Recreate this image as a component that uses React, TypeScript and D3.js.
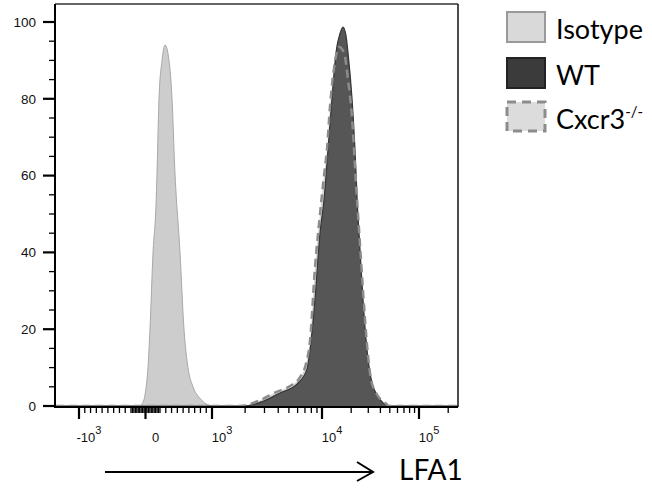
import * as d3 from "d3";

// ── layout ──
const W = 652;
const H = 489;
const plot = { left: 55, right: 458, top: 4, bottom: 407 };

// ── data ──
// fluorescence value (LFA1) and % of max
const isoVal = [-1400, -38, -24, -3, 17, 31, 52, 72, 79, 93, 135, 187, 256, 308, 355, 446, 515, 584, 671, 792, 930, 1065, 250000];
const isoPct = [0, 0, 0.5, 3, 10, 20, 40, 52, 60, 80, 90, 94, 90, 80, 62, 40, 20, 10, 5, 2, 0.3, 0, 0];

const wtVal = [-1400, 1914, 2908, 4150, 5925, 7305, 7780, 8630, 9590, 10486, 11530, 12680, 13940, 15330, 16460, 17660, 18540, 20400, 21880, 23200, 24660, 26470, 29100, 32780, 36900, 42550, 47900, 250000];
const wtPct = [0, 0, 1.2, 3.4, 5.7, 9.6, 14.6, 27.6, 45, 53.6, 66.7, 80, 92, 97, 98.7, 96.5, 92, 80, 66.7, 52, 40.6, 27.6, 14.6, 6, 2.9, 0.8, 0, 0];

const koVal = [-1400, 1797, 2730, 3740, 5120, 6310, 7150, 7780, 8630, 9590, 10486, 11260, 12090, 13300, 14970, 16860, 18540, 20400, 22410, 24660, 26470, 29100, 31990, 36900, 42550, 45740, 49000, 250000];
const koPct = [0, 0, 1.5, 3.5, 5.2, 7.5, 11, 17, 36, 50, 60, 67, 78, 88, 93.5, 92, 85, 75, 58, 42, 30, 16, 7, 3, 1.2, 0.6, 0, 0];

// ticks
const xMajor = [-1000, 0, 1000, 10000, 100000];
const xMajorBase = ["-10", "0", "10", "10", "10"];
const xMajorExp = ["3", "", "3", "4", "5"];
const xMinor = [
  ...d3.range(-900, 0, 100), ...d3.range(-90, 0, 10), ...d3.range(10, 100, 10),
  ...d3.range(100, 1000, 100), ...d3.range(2000, 10000, 1000),
  ...d3.range(20000, 100000, 10000), 200000,
];
const yMajor = [0, 20, 40, 60, 80, 100];
const yMinor = d3.range(5, 100, 5).filter(t => t % 20 !== 0);

const legendLabels = ["Isotype", "WT", "Cxcr3"];
const legendSup = ["", "", "-/-"];

// ── scales ──
// biexponential-style axis: linear around zero, log above 10^3
const xLin = d3.scaleLinear().domain([-1000, -100, 100, 1000]).range([79, 131, 160, 212]);
const xLog = d3.scaleLog().domain([1e3, 1e4, 1e5]).range([212, 322, 419]);
const x = (v: number) => (v <= 1000 ? xLin(v) : xLog(v));
const y = d3.scaleLinear().domain([0, 100]).range([406, 22]);

const toPts = (vals: number[], pcts: number[]) => vals.map((v, i) => [x(v), y(pcts[i])] as [number, number]);

const area = d3.area<[number, number]>().x(d => d[0]).y0(y(0)).y1(d => d[1]).curve(d3.curveMonotoneX);
const line = d3.line<[number, number]>().x(d => d[0]).y(d => d[1]).curve(d3.curveMonotoneX);

const tickFont = "'Liberation Sans', Arial, sans-serif";
const textFont = "Lato, 'Open Sans', sans-serif";

export default function App() {
  const iso = toPts(isoVal, isoPct);
  const wt = toPts(wtVal, wtPct);
  const ko = toPts(koVal, koPct);

  const legendY = [12, 58, 102];

  return (
    <svg width={W} height={H} style={{ position: "absolute", left: 0, top: 0, background: "#fff" }}>
      <defs>
        <clipPath id="plotClip">
          <rect x={plot.left} y={plot.top} width={plot.right - plot.left} height={plot.bottom - plot.top} />
        </clipPath>
      </defs>

      {/* histograms */}
      <g clipPath="url(#plotClip)">
        <path d={area(iso) ?? ""} fill="#cdcdcd" />
        <path d={line(iso) ?? ""} fill="none" stroke="#a8a8a8" strokeWidth={1} />
        <path d={area(ko) ?? ""} fill="#d6d6d6" />
        <path d={area(wt) ?? ""} fill="#565656" />
        <path d={line(wt) ?? ""} fill="none" stroke="#353535" strokeWidth={1.2} />
        <path d={line(ko) ?? ""} fill="none" stroke="#8c8c8c" strokeWidth={2.5} strokeDasharray="8 5" />
      </g>

      {/* frame */}
      <line x1={plot.left} x2={plot.right} y1={plot.top} y2={plot.top} stroke="#333" strokeWidth={1.5} />
      <line x1={plot.right} x2={plot.right} y1={plot.top} y2={plot.bottom} stroke="#111" strokeWidth={1.5} />
      <line x1={plot.left} x2={plot.left} y1={plot.top} y2={plot.bottom + 1} stroke="#000" strokeWidth={2} />
      <line x1={plot.left} x2={plot.right} y1={plot.bottom} y2={plot.bottom} stroke="#000" strokeWidth={2} />

      {/* y axis */}
      {yMinor.map(t => (
        <line key={"ym" + t} x1={plot.left - 6} x2={plot.left} y1={y(t)} y2={y(t)} stroke="#000" strokeWidth={1.3} />
      ))}
      {yMajor.map(t => (
        <g key={"yM" + t}>
          <line x1={plot.left - 12} x2={plot.left} y1={y(t)} y2={y(t)} stroke="#000" strokeWidth={2.2} />
          <text x={plot.left - 19} y={y(t)} dy="0.36em" textAnchor="end" fontSize={13.5} fontFamily={tickFont} fill="#111">
            {t}
          </text>
        </g>
      ))}

      {/* x axis */}
      {xMinor.map(t => (
        <line key={"xm" + t} x1={x(t)} x2={x(t)} y1={plot.bottom} y2={plot.bottom + 6} stroke="#000" strokeWidth={1.3} />
      ))}
      {xMajor.map((t, i) => (
        <g key={"xM" + t}>
          <line x1={x(t)} x2={x(t)} y1={plot.bottom} y2={plot.bottom + 12} stroke="#000" strokeWidth={2.2} />
          <text x={x(t) + 10} y={442} textAnchor="middle" fontSize={13} fontFamily={tickFont} fill="#111">
            <tspan>{xMajorBase[i]}</tspan>
            {xMajorExp[i] && <tspan dy={-8} fontSize={11}>{xMajorExp[i]}</tspan>}
          </text>
        </g>
      ))}

      {/* axis label with arrow */}
      <line x1={105} x2={372} y1={472} y2={472} stroke="#000" strokeWidth={2} />
      <polyline points="357,462 373,472 357,481" fill="none" stroke="#000" strokeWidth={2} />
      <text x={399} y={480} fontSize={28} fontFamily={textFont} fill="#000">LFA1</text>

      {/* legend */}
      <rect x={507} y={legendY[0]} width={38} height={30} fill="#d9d9d9" stroke="#999" strokeWidth={2} />
      <rect x={507} y={legendY[1]} width={38} height={30} fill="#3b3b3b" stroke="#222" strokeWidth={2} />
      <rect x={507} y={legendY[2]} width={38} height={29} fill="#dcdcdc" stroke="#8c8c8c" strokeWidth={3} strokeDasharray="9 6" />
      {legendLabels.map((l, i) => (
        <text key={l} x={556} y={legendY[i] + 27} fontSize={27} fontFamily={textFont} fill="#000">
          {l}
          {legendSup[i] && <tspan dy={-12} fontSize={15}>{legendSup[i]}</tspan>}
        </text>
      ))}
    </svg>
  );
}
